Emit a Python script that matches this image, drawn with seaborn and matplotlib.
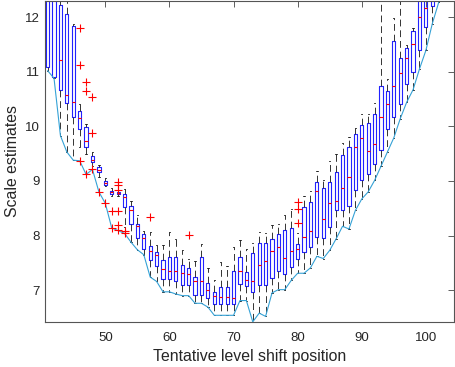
import numpy as np
import pandas as pd
import seaborn as sns
import matplotlib.pyplot as plt

# tentative level shift positions
positions = list(range(41, 105))

# five-number summaries (lower whisker, q1, median, q3, upper whisker)
lower = [11.02, 10.88, 9.83, 9.53, 9.38, 9.63, 9.49, 9.28, 9.07, 8.90,
         8.72, 8.72, 8.15, 7.88, 7.74, 7.65, 7.24, 7.16, 6.97, 6.97,
         6.93, 6.90, 6.90, 6.76, 6.76, 6.69, 6.54, 6.54, 6.54, 6.54,
         6.81, 6.81, 6.42, 6.58, 6.52, 6.95, 7.01, 7.01, 7.18, 7.31,
         7.31, 7.41, 7.62, 7.58, 7.73, 7.94, 8.17, 8.12, 8.46, 8.67,
         8.80, 9.01, 9.27, 9.53, 9.79, 10.14, 10.44, 10.67, 11.05, 11.39,
         11.88, 12.27, 12.70, 13.10]
q1 = [11.08, 10.90, 10.67, 10.43, 10.18, 9.96, 9.63, 9.34, 9.16, 8.93,
      8.76, 8.76, 8.52, 8.22, 7.96, 7.75, 7.56, 7.45, 7.21, 7.21,
      7.17, 7.09, 7.09, 6.92, 6.92, 6.86, 6.74, 6.74, 6.74, 6.74,
      7.12, 7.07, 6.96, 7.10, 7.09, 7.22, 7.35, 7.29, 7.42, 7.58,
      7.70, 7.79, 7.98, 7.96, 8.15, 8.46, 8.46, 8.55, 8.83, 9.01,
      9.12, 9.31, 9.57, 9.96, 10.17, 10.41, 10.77, 10.99, 11.40, 11.82,
      12.21, 12.60, 13.00, 13.40]
median = [12.50, 12.40, 11.22, 10.58, 10.44, 10.16, 9.74, 9.39, 9.20, 8.97,
          8.79, 8.78, 8.70, 8.47, 8.17, 7.95, 7.71, 7.65, 7.39, 7.35,
          7.35, 7.31, 7.29, 7.16, 7.16, 7.00, 6.89, 6.87, 6.87, 6.86,
          7.35, 7.19, 7.16, 7.47, 7.54, 7.71, 7.79, 7.59, 7.71, 7.75,
          7.97, 8.09, 8.81, 8.31, 8.60, 8.63, 8.87, 9.07, 9.62, 9.78,
          9.55, 9.67, 10.17, 10.41, 10.73, 10.98, 11.26, 11.51, 12.00, 12.17,
          12.50, 12.90, 13.30, 13.70]
q3 = [13.30, 13.40, 12.23, 12.05, 11.84, 10.28, 9.99, 9.45, 9.25, 9.00,
      8.82, 8.80, 8.77, 8.54, 8.22, 8.02, 7.81, 7.70, 7.56, 7.60,
      7.61, 7.47, 7.41, 7.25, 7.61, 7.13, 6.96, 7.06, 7.06, 7.35,
      7.61, 7.34, 7.68, 7.87, 7.87, 7.94, 8.03, 8.11, 8.14, 7.84,
      8.53, 8.62, 8.99, 8.87, 8.99, 9.16, 9.48, 9.62, 9.86, 10.03,
      10.07, 10.22, 10.73, 10.64, 11.56, 11.26, 11.43, 11.74, 12.40, 12.50,
      12.80, 13.20, 13.60, 14.00]
upper = [14.50, 14.50, 12.50, 12.40, 11.88, 10.40, 10.05, 9.53, 9.30, 9.06,
         8.87, 8.84, 8.85, 8.63, 8.38, 8.09, 8.07, 7.83, 7.83, 8.06,
         7.94, 7.73, 7.58, 7.53, 7.85, 7.41, 7.18, 7.51, 7.45, 7.79,
         7.92, 7.75, 7.86, 8.06, 8.04, 8.19, 8.22, 8.38, 8.49, 8.05,
         8.73, 8.81, 9.19, 9.01, 9.36, 9.50, 9.69, 9.80, 9.97, 10.23,
         10.23, 10.43, 13.00, 10.86, 11.99, 13.00, 11.49, 11.80, 12.60, 12.80,
         13.00, 13.40, 13.80, 14.20]

# smallest estimate at each position (line under the boxes)
lowest = [11.02, 10.88, 9.83, 9.53, 9.38, 9.37, 9.12, 9.21, 8.80, 8.59,
          8.14, 8.09, 8.04, 7.88, 7.74, 7.65, 7.24, 7.16, 6.97, 6.97,
          6.93, 6.90, 6.90, 6.76, 6.76, 6.69, 6.54, 6.54, 6.54, 6.54,
          6.81, 6.81, 6.42, 6.58, 6.52, 6.95, 7.01, 7.01, 7.18, 7.31,
          7.31, 7.41, 7.62, 7.58, 7.73, 7.94, 8.17, 8.12, 8.46, 8.67,
          8.80, 9.01, 9.27, 9.53, 9.79, 10.14, 10.44, 10.67, 11.05, 11.39,
          11.88, 12.27, 12.70, 13.10]

# outliers
out_x = [46, 46, 46, 47, 47, 47, 48, 48, 48, 49, 50, 51, 51,
         52, 52, 52, 52, 52, 52, 53, 53, 57, 63, 80, 80, 80]
out_y = [11.80, 11.13, 9.37, 10.81, 10.64, 9.13, 10.53, 9.88, 9.21, 8.80, 8.59, 8.45, 8.14,
         8.98, 8.92, 8.84, 8.45, 8.20, 8.10, 8.09, 8.04, 8.34, 8.01, 8.62, 8.49, 8.23]

df = pd.DataFrame({
    'pos': np.repeat(positions, 5),
    'val': np.column_stack([lower, q1, median, q3, upper]).ravel(),
})

sns.set_style('white')
plt.rcParams['font.family'] = ['Liberation Sans', 'DejaVu Sans']

fig = plt.figure(figsize=(4.55, 3.67), dpi=100)
ax = fig.add_axes([0.099, 0.123, 0.899, 0.875])

sns.boxplot(data=df, x='pos', y='val', native_scale=True, whis=(0, 100),
            width=0.5, fill=False, color='#2222ff', linewidth=0.8,
            boxprops={'color': '#2222ff'},
            medianprops={'color': 'red', 'linewidth': 0.8},
            whiskerprops={'color': '#333333', 'linestyle': (0, (7, 4)), 'linewidth': 0.7},
            capprops={'color': '#222222', 'linewidth': 0.7},
            capwidths=0.2, showfliers=False, ax=ax)

sns.lineplot(x=positions, y=lowest, color='#35a2d6', linewidth=0.8, ax=ax)
sns.scatterplot(x=out_x, y=out_y, marker='+', color='red', s=28, linewidth=0.8, ax=ax, zorder=5)

ax.set_xlim(40.6, 104.4)
ax.set_ylim(6.42, 12.3)
ax.set_xticks([50, 60, 70, 80, 90, 100])
ax.set_yticks([7, 8, 9, 10, 11, 12])
ax.tick_params(direction='in', top=True, right=True, length=4, width=0.6,
               color='#444444', labelcolor='#262626', labelsize=9.5)
ax.tick_params(axis='x', pad=7)
for s in ax.spines.values():
    s.set_color('#555555')
    s.set_linewidth(0.8)
ax.set_xlabel('Tentative level shift position', fontsize=11.4, color='#262626')
ax.set_ylabel('Scale estimates', fontsize=11.4, color='#262626')

fig.savefig('out.png', dpi=100)
